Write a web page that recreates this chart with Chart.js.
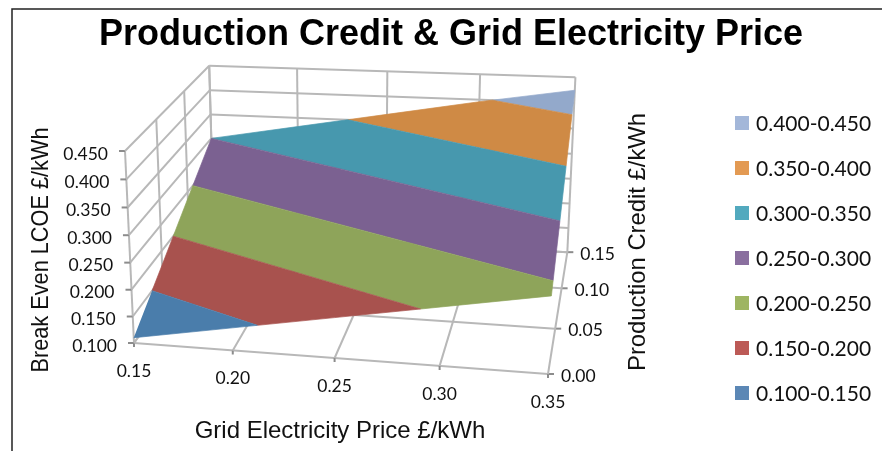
<!DOCTYPE html>
<html>
<head>
<meta charset="utf-8">
<title>Production Credit & Grid Electricity Price</title>
<script src="https://cdn.jsdelivr.net/npm/chart.js@4"></script>
<style>
  html, body { margin: 0; padding: 0; background: #fff; }
  canvas { display: block; }
</style>
</head>
<body>
<canvas id="chart" width="882" height="451"></canvas>
<script>
const gridPrices = [0.15, 0.20, 0.25, 0.30, 0.35];
const productionCredits = [0.00, 0.05, 0.10, 0.15];
const lcoeTicks = [0.10, 0.15, 0.20, 0.25, 0.30, 0.35, 0.40, 0.45];

// break even LCOE per credit row, one value per grid price
const lcoeCredit000 = [0.110, 0.142, 0.174, 0.206, 0.238];
const lcoeCredit005 = [0.173, 0.205, 0.237, 0.269, 0.301];
const lcoeCredit010 = [0.237, 0.269, 0.301, 0.333, 0.365];
const lcoeCredit015 = [0.300, 0.332, 0.364, 0.396, 0.425];
const lcoeRows = [lcoeCredit000, lcoeCredit005, lcoeCredit010, lcoeCredit015];

const bandLabels = ["0.100-0.150", "0.150-0.200", "0.200-0.250", "0.250-0.300", "0.300-0.350", "0.350-0.400", "0.400-0.450"];
const bandColors = ["#4a7dab", "#a8524e", "#8ea45a", "#7b6191", "#4798ae", "#cf8a45", "#93a9cb"];
const legendColors = ["#5b87b5", "#bc5a56", "#9eb562", "#8a6f9f", "#52a9be", "#e39a53", "#a3b7d9"];

const GRID_COLOR = "#b8b8b8";
const TICK_COLOR = "#8c8c8c";
const LABEL_FONT = '17.5px Lato';
const TITLE_FONT = '24px "Liberation Sans"';

// box corners on the page and perspective weights for the three axes
const O = { x: 134, y: 343 };
const U = { x: 548, y: 374 };
const V = { x: 214, y: 232 };
const W = { x: 125, y: 151 };
const wu = 0.94, wv = 1.175, wt = 0.96;

function project(p, c, z) {
  const u = (p - gridPrices[0]) / (gridPrices[gridPrices.length - 1] - gridPrices[0]);
  const v = (c - productionCredits[0]) / (productionCredits[productionCredits.length - 1] - productionCredits[0]);
  const t = (z - lcoeTicks[0]) / (lcoeTicks[lcoeTicks.length - 1] - lcoeTicks[0]);
  const w = 1 + u * (wu - 1) + v * (wv - 1) + t * (wt - 1);
  return {
    x: (O.x + u * (wu * U.x - O.x) + v * (wv * V.x - O.x) + t * (wt * W.x - O.x)) / w,
    y: (O.y + u * (wu * U.y - O.y) + v * (wv * V.y - O.y) + t * (wt * W.y - O.y)) / w
  };
}

// cut a polygon of [p, c, z] corners down to one side of a z level
function clipZ(poly, level, keepAbove) {
  const out = [];
  for (let i = 0; i < poly.length; i++) {
    const a = poly[i], b = poly[(i + 1) % poly.length];
    const aIn = keepAbove ? a[2] >= level : a[2] <= level;
    const bIn = keepAbove ? b[2] >= level : b[2] <= level;
    if (aIn) out.push(a);
    if (aIn !== bIn) {
      const k = (level - a[2]) / (b[2] - a[2]);
      out.push([a[0] + k * (b[0] - a[0]), a[1] + k * (b[1] - a[1]), level]);
    }
  }
  return out;
}

// outer edge of the surface, walked once around the table
function surfaceOutline() {
  const last = productionCredits.length - 1, end = gridPrices.length - 1;
  const outline = [];
  gridPrices.forEach((p, i) => outline.push([p, productionCredits[0], lcoeRows[0][i]]));
  for (let r = 1; r <= last; r++) outline.push([gridPrices[end], productionCredits[r], lcoeRows[r][end]]);
  for (let i = end - 1; i >= 0; i--) outline.push([gridPrices[i], productionCredits[last], lcoeRows[last][i]]);
  for (let r = last - 1; r > 0; r--) outline.push([gridPrices[0], productionCredits[r], lcoeRows[r][0]]);
  return outline;
}

function surfaceDatasets() {
  const outline = surfaceOutline();
  return bandColors.map((color, b) => {
    const piece = clipZ(clipZ(outline, lcoeTicks[b], true), lcoeTicks[b + 1], false);
    return {
      data: piece.map(q => project(q[0], q[1], q[2])),
      showLine: true,
      fill: "shape",
      backgroundColor: color,
      borderColor: color,
      borderWidth: 0.7,
      pointRadius: 0,
      tension: 0,
      order: 0
    };
  });
}

function segment(a, b, color, width) {
  return {
    data: [a, b],
    showLine: true,
    fill: false,
    borderColor: color,
    borderWidth: width,
    pointRadius: 0,
    order: 1
  };
}

function gridDatasets() {
  const sets = [];
  const p0 = gridPrices[0], p1 = gridPrices[gridPrices.length - 1];
  const c0 = productionCredits[0], c1 = productionCredits[productionCredits.length - 1];
  const z0 = lcoeTicks[0], z1 = lcoeTicks[lcoeTicks.length - 1];

  // left wall and back wall levels
  lcoeTicks.forEach(z => {
    sets.push(segment(project(p0, c0, z), project(p0, c1, z), GRID_COLOR, 2));
    sets.push(segment(project(p0, c1, z), project(p1, c1, z), GRID_COLOR, 2));
    const at = project(p0, c0, z);
    sets.push(segment({ x: at.x - 6, y: at.y }, at, TICK_COLOR, 2));
  });
  // price lines over the floor and up the back wall
  gridPrices.forEach(p => {
    sets.push(segment(project(p, c0, z0), project(p, c1, z0), GRID_COLOR, 2));
    sets.push(segment(project(p, c1, z0), project(p, c1, z1), GRID_COLOR, 2));
    const at = project(p, c0, z0);
    sets.push(segment(at, { x: at.x, y: at.y + 4 }, TICK_COLOR, 2));
  });
  // credit lines over the floor and up the left wall
  productionCredits.forEach(c => {
    sets.push(segment(project(p0, c, z0), project(p1, c, z0), GRID_COLOR, 2));
    sets.push(segment(project(p0, c, z0), project(p0, c, z1), GRID_COLOR, 2));
    const at = project(p1, c, z0);
    sets.push(segment(at, { x: at.x + 6, y: at.y }, TICK_COLOR, 2));
  });
  return sets;
}

// title, tick labels, axis titles, legend and page frame
const annotations = {
  id: "annotations",
  afterDraw(chart) {
    const ctx = chart.ctx;
    const xs = chart.scales.x, ys = chart.scales.y;
    const px = v => xs.getPixelForValue(v), py = v => ys.getPixelForValue(v);
    ctx.save();

    ctx.strokeStyle = "#222";
    ctx.lineWidth = 1.5;
    ctx.beginPath();
    ctx.moveTo(882, 9);
    ctx.lineTo(12, 9);
    ctx.lineTo(12, 451);
    ctx.stroke();

    ctx.fillStyle = "#000";
    ctx.textBaseline = "middle";
    ctx.textAlign = "center";
    ctx.font = 'bold 36px "Liberation Sans"';
    ctx.fillText("Production Credit & Grid Electricity Price", 451, 35);

    ctx.fillStyle = "#111";
    ctx.font = LABEL_FONT;
    ctx.textAlign = "right";
    lcoeTicks.forEach(z => {
      const at = project(gridPrices[0], productionCredits[0], z);
      ctx.fillText(z.toFixed(3), px(at.x) - 17, py(at.y) + 3);
    });
    ctx.textAlign = "center";
    gridPrices.forEach(p => {
      const at = project(p, productionCredits[0], lcoeTicks[0]);
      ctx.fillText(p.toFixed(2), px(at.x), py(at.y) + 28);
    });
    ctx.textAlign = "left";
    productionCredits.forEach(c => {
      const at = project(gridPrices[gridPrices.length - 1], c, lcoeTicks[0]);
      ctx.fillText(c.toFixed(2), px(at.x) + 13, py(at.y) + 2);
    });

    ctx.font = TITLE_FONT;
    ctx.textAlign = "center";
    ctx.fillText("Grid Electricity Price £/kWh", 340, 431, 291);
    ctx.save();
    ctx.translate(41, 250);
    ctx.rotate(-Math.PI / 2);
    ctx.fillText("Break Even LCOE £/kWh", 0, 0, 245);
    ctx.restore();
    ctx.save();
    ctx.translate(638, 242);
    ctx.rotate(-Math.PI / 2);
    ctx.fillText("Production Credit £/kWh", 0, 0, 258);
    ctx.restore();

    ctx.font = '21px Lato';
    ctx.textAlign = "left";
    bandLabels.forEach((label, b) => {
      const y = 393 - b * 45;
      ctx.fillStyle = legendColors[b];
      ctx.fillRect(735, y - 7, 14, 14);
      ctx.fillStyle = "#111";
      ctx.fillText(label, 756, y + 1);
    });
    ctx.restore();
  }
};

new Chart(document.getElementById("chart"), {
  type: "scatter",
  data: { datasets: surfaceDatasets().concat(gridDatasets()) },
  options: {
    responsive: false,
    animation: false,
    events: [],
    layout: { padding: 0 },
    plugins: { legend: { display: false }, title: { display: false }, tooltip: { enabled: false } },
    scales: {
      x: { type: "linear", display: false, min: 0, max: 882 },
      y: { type: "linear", display: false, min: 0, max: 451, reverse: true }
    }
  },
  plugins: [annotations]
});
</script>
</body>
</html>
